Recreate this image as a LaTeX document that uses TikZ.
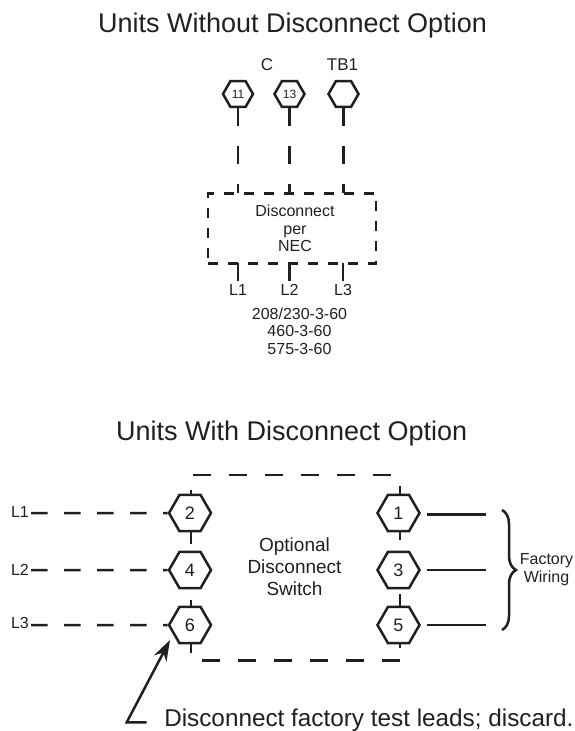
\documentclass[tikz,border=0pt]{standalone}
\usepackage{fontspec}
\setmainfont{Liberation Sans}
\usetikzlibrary{shapes.geometric, arrows.meta, decorations.pathreplacing}
\definecolor{ink}{HTML}{231F20}

\begin{document}
\begin{tikzpicture}[x=1pt, y=-1pt, color=ink, line width=2.5pt]
        \tikzstyle{hexbig}=[draw, regular polygon, regular polygon sides=6, minimum size=42pt, inner sep=0pt, font=\fontsize{18}{20}\selectfont]
        \tikzstyle{hexsmall}=[hexbig, minimum size=30pt, font=\fontsize{12}{14}\selectfont]
        \tikzstyle{title}=[anchor=base, font=\fontsize{27}{30}\selectfont]
        \tikzstyle{small}=[inner sep=1pt, align=center, font=\fontsize{16}{17.5}\selectfont]
        \tikzstyle{large}=[inner sep=1pt, align=center, font=\fontsize{19}{22}\selectfont]
        \tikzstyle{longdash}=[dash pattern=on 18pt off 18pt]
        \tikzstyle{feeddash}=[dash pattern=on 16.5pt off 16.5pt]

        \useasboundingbox (0,0) rectangle (574,731);

        \node (top title)    [title] at (292.5,32.3) {Units Without Disconnect Option};
        \node (C)            [small, font=\fontsize{17}{19}\selectfont] at (267,65) {C};
        \node (TB1)          [small, font=\fontsize{17}{19}\selectfont] at (342.5,65) {TB1};
        \node (h11)          [hexsmall] at (238,94) {11};
        \node (h13)          [hexsmall] at (289.5,94) {13};
        \node (hTB)          [hexsmall] at (343.5,94) {};
        \node (box)          [draw, dash pattern=on 10pt off 10pt, minimum width=167.7pt, minimum height=70pt, inner sep=0pt, outer sep=0pt] at (292,228.3) {};
        \node (box text)     [small] at (295,228.3) {Disconnect\\per\\NEC};
        \node (top L1)       [small] at (238,290) {L1};
        \node (top L2)       [small] at (289.5,290) {L2};
        \node (top L3)       [small] at (343,290) {L3};
        \node (voltage)      [small] at (299.5,331) {208/230-3-60\\460-3-60\\575-3-60};

        \path[draw, dash pattern=on 18pt off 20pt]
                        (h11.south) -- (h11.south |- box.north)
                        (h13.south) -- (h13.south |- box.north)
                        (hTB.south) -- (hTB.south |- box.north);
        \draw (top L1 |- box.south) -- ([yshift=1pt]top L1.north);
        \draw (top L2 |- box.south) -- ([yshift=1pt]top L2.north);
        \draw (top L3 |- box.south) -- ([yshift=1pt]top L3.north);

        \node (low title)    [title] at (291.7,440.7) {Units With Disconnect Option};
        \node (h2)           [hexbig] at (190,513) {2};
        \node (h4)           [hexbig] at (190,570) {4};
        \node (h6)           [hexbig] at (190,625) {6};
        \node (h1)           [hexbig] at (398.5,513) {1};
        \node (h3)           [hexbig] at (398.5,570) {3};
        \node (h5)           [hexbig] at (398.5,625) {5};
        \node (L1)           [small] at (20,512) {L1};
        \node (L2)           [small] at (20,570) {L2};
        \node (L3)           [small] at (20,622.5) {L3};
        \node (switch)       [large] at (294.5,567) {Optional\\Disconnect\\Switch};
        \node (factory)      [small] at (546.5,569.5) {Factory\\Wiring};
        \node (note)         [anchor=base west, inner sep=0pt, font=\fontsize{24.3}{28}\selectfont] at (163,726) {Disconnect factory test leads; discard.};

        \coordinate (upper a) at (193,475);
        \coordinate (upper b) at (392,475);
        \coordinate (lower a) at (202,660.7);
        \coordinate (lower b) at (400,660.7);
        \coordinate (stub2)   at (191,490);
        \coordinate (stub24)  at (191,544);
        \coordinate (stub46)  at (191,600);
        \coordinate (stub6)   at (191,653);
        \coordinate (stub1)   at (400,486);
        \coordinate (stub13)  at (400,540);
        \coordinate (stub35)  at (400,594);
        \coordinate (stub5)   at (400,648);
        \coordinate (wire1)   at (486,514.5);
        \coordinate (wire3)   at (486,570);
        \coordinate (wire5)   at (486,625);
        \coordinate (brace a) at (502,510);
        \coordinate (brace b) at (502,630);
        \coordinate (elbow)   at (126.7,722.3);
        \coordinate (lead)    at (146.7,722.3);
        \coordinate (tip)     at (170,640);

        \draw[longdash] (upper a) -- (upper b);
        \draw[longdash] (lower a) -- (lower b);
        \draw (stub2) -- (stub2 |- h2.north);
        \draw (stub24) -- (stub24 |- h2.south);
        \draw (stub46) -- (stub46 |- h6.north);
        \draw (stub6) -- (stub6 |- h6.south);
        \draw (stub1) -- (stub1 |- h1.north);
        \draw (stub13) -- (stub13 |- h1.south);
        \draw (stub35) -- (stub35 |- h5.north);
        \draw (stub5) -- (stub5 |- h5.south);

        \draw[feeddash] (L1.east |- h2) -- (h2.west);
        \draw[feeddash] (L2.east |- h4) -- (h4.west);
        \draw[feeddash] (L3.east |- h6) -- (h6.west);

        \draw ([xshift=6pt]h1.east |- wire1) -- (wire1);
        \draw ([xshift=6pt]h3.east |- wire3) -- (wire3);
        \draw ([xshift=6pt]h5.east |- wire5) -- (wire5);

        \draw[decorate, decoration={brace, amplitude=14pt}] (brace a) -- (brace b);
        \draw[-{Stealth[length=21pt, width=14pt]}] (lead) -- (elbow) -- (tip);
\end{tikzpicture}
\end{document}
